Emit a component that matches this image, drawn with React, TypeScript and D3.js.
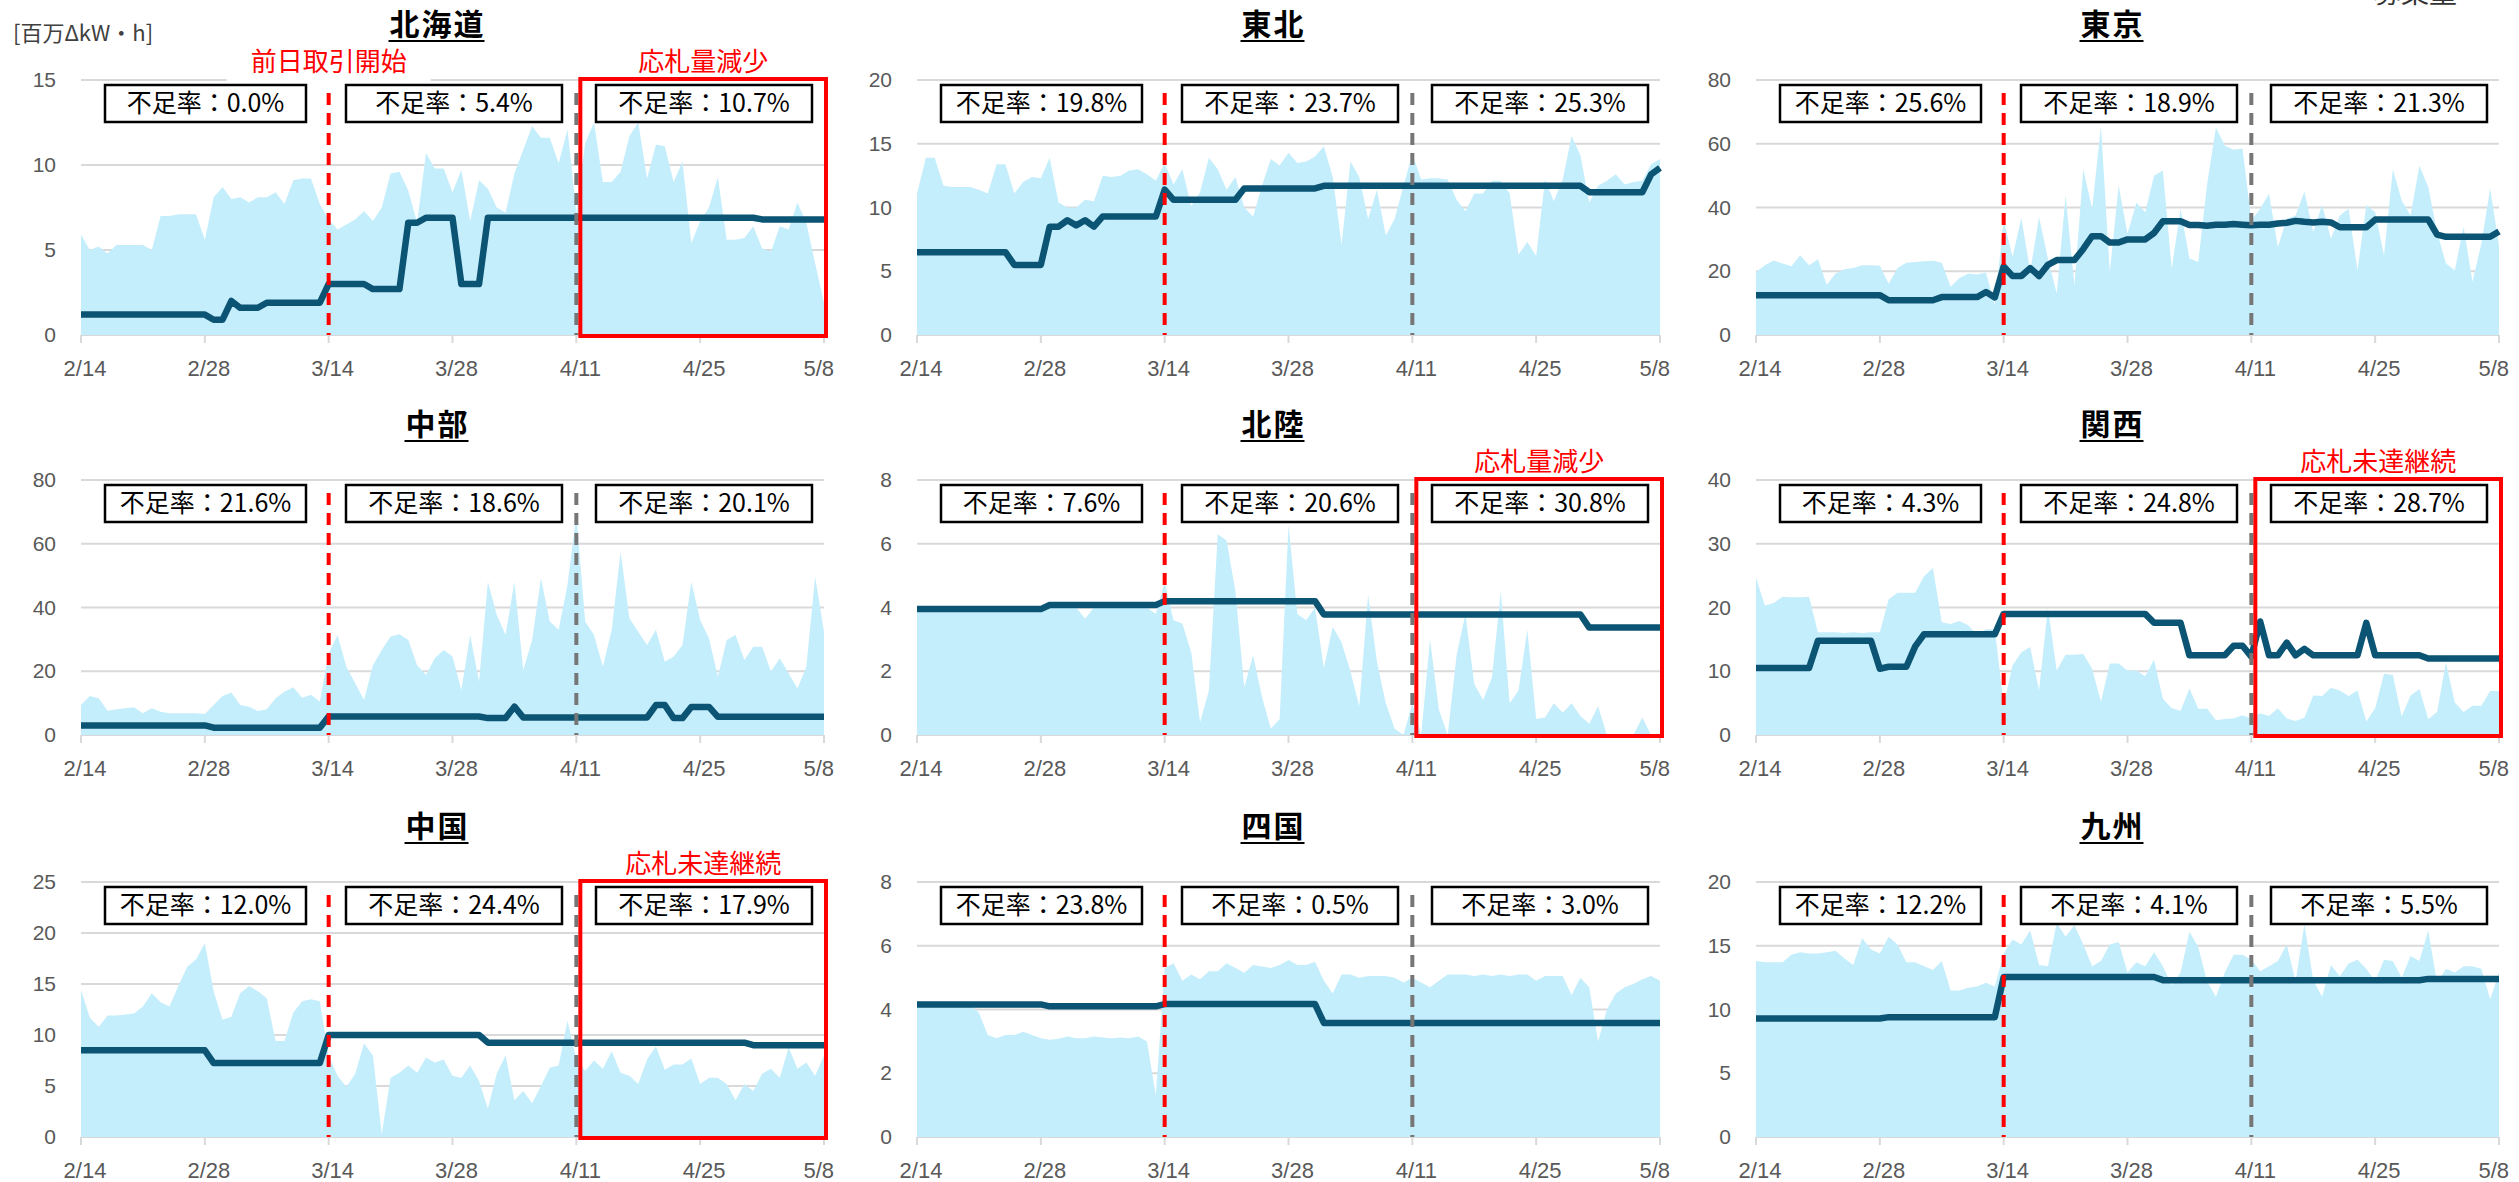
import React from 'react';
import * as d3 from 'd3';

// Daily index 0..84 covers 2/14 to 5/8
const dateTicks = [0, 14, 28, 42, 56, 70, 84];
const dateLabels = ['2/14', '2/28', '3/14', '3/28', '4/11', '4/25', '5/8'];
const dayAheadStart = 28; // 3/14
const periodSplit = 56; // 4/11

const regionNames = ['北海道', '東北', '東京', '中部', '北陸', '関西', '中国', '四国', '九州'];
const yTickValues = [
  [0, 5, 10, 15],
  [0, 5, 10, 15, 20],
  [0, 20, 40, 60, 80],
  [0, 20, 40, 60, 80],
  [0, 2, 4, 6, 8],
  [0, 10, 20, 30, 40],
  [0, 5, 10, 15, 20, 25],
  [0, 2, 4, 6, 8],
  [0, 5, 10, 15, 20],
];
const shortageRates = [
  ['0.0%', '5.4%', '10.7%'],
  ['19.8%', '23.7%', '25.3%'],
  ['25.6%', '18.9%', '21.3%'],
  ['21.6%', '18.6%', '20.1%'],
  ['7.6%', '20.6%', '30.8%'],
  ['4.3%', '24.8%', '28.7%'],
  ['12.0%', '24.4%', '17.9%'],
  ['23.8%', '0.5%', '3.0%'],
  ['12.2%', '4.1%', '5.5%'],
];
const alertNotes = ['応札量減少', '', '', '', '応札量減少', '応札未達継続', '応札未達継続', '', ''];

// Bid volume (area) and procurement volume (line), 百万ΔkW・h
const hokkaidoBid = [5.9, 5.0, 5.2, 4.8, 5.3, 5.3, 5.3, 5.3, 5.0, 7.0, 7.0, 7.1, 7.1, 7.1, 5.6, 8.1, 8.7, 8.0, 8.1, 7.8, 8.1, 8.1, 8.4, 7.7, 9.1, 9.2, 9.2, 7.7, 6.8, 6.2, 6.5, 6.8, 7.3, 6.7, 7.5, 9.5, 9.6, 8.5, 6.6, 10.7, 9.8, 9.8, 8.4, 9.7, 6.7, 9.1, 8.6, 7.5, 7.2, 9.5, 10.9, 12.3, 11.6, 11.6, 10.1, 12.1, 7.2, 11.3, 12.5, 9.0, 9.0, 9.6, 11.7, 12.5, 9.2, 11.2, 11.1, 9.0, 10.2, 5.4, 6.7, 7.5, 9.3, 5.6, 5.6, 5.7, 6.4, 5.1, 4.9, 6.4, 6.2, 7.8, 6.6, 4.2, 1.9];
const hokkaidoReq = [1.2, 1.2, 1.2, 1.2, 1.2, 1.2, 1.2, 1.2, 1.2, 1.2, 1.2, 1.2, 1.2, 1.2, 1.2, 0.9, 0.9, 2.0, 1.6, 1.6, 1.6, 1.9, 1.9, 1.9, 1.9, 1.9, 1.9, 1.9, 3.0, 3.0, 3.0, 3.0, 3.0, 2.7, 2.7, 2.7, 2.7, 6.6, 6.6, 6.9, 6.9, 6.9, 6.9, 3.0, 3.0, 3.0, 6.9, 6.9, 6.9, 6.9, 6.9, 6.9, 6.9, 6.9, 6.9, 6.9, 6.9, 6.9, 6.9, 6.9, 6.9, 6.9, 6.9, 6.9, 6.9, 6.9, 6.9, 6.9, 6.9, 6.9, 6.9, 6.9, 6.9, 6.9, 6.9, 6.9, 6.9, 6.8, 6.8, 6.8, 6.8, 6.8, 6.8, 6.8, 6.8];

const tohokuBid = [11.1, 13.9, 13.9, 11.7, 11.6, 11.6, 11.6, 11.4, 11.1, 13.4, 13.4, 11.1, 12.0, 12.4, 12.3, 13.9, 10.4, 10.0, 10.0, 10.6, 10.5, 12.5, 12.4, 12.5, 12.9, 13.0, 12.6, 12.1, 13.5, 11.8, 13.0, 10.1, 11.2, 13.9, 13.0, 11.4, 12.4, 10.0, 9.3, 11.7, 13.8, 13.3, 14.3, 13.5, 13.6, 14.0, 14.8, 12.4, 7.1, 13.6, 12.4, 9.1, 11.4, 7.8, 9.1, 11.7, 14.2, 12.2, 12.3, 12.3, 12.2, 10.6, 9.7, 11.1, 11.1, 12.1, 12.1, 11.1, 6.3, 7.3, 6.2, 12.2, 10.5, 12.2, 15.6, 14.1, 10.4, 11.7, 12.1, 12.6, 11.8, 12.0, 12.1, 13.4, 13.8];
const tohokuReq = [6.5, 6.5, 6.5, 6.5, 6.5, 6.5, 6.5, 6.5, 6.5, 6.5, 6.5, 5.5, 5.5, 5.5, 5.5, 8.5, 8.5, 9.0, 8.6, 9.0, 8.5, 9.3, 9.3, 9.3, 9.3, 9.3, 9.3, 9.3, 11.4, 10.6, 10.6, 10.6, 10.6, 10.6, 10.6, 10.6, 10.6, 11.5, 11.5, 11.5, 11.5, 11.5, 11.5, 11.5, 11.5, 11.5, 11.7, 11.7, 11.7, 11.7, 11.7, 11.7, 11.7, 11.7, 11.7, 11.7, 11.7, 11.7, 11.7, 11.7, 11.7, 11.7, 11.7, 11.7, 11.7, 11.7, 11.7, 11.7, 11.7, 11.7, 11.7, 11.7, 11.7, 11.7, 11.7, 11.7, 11.2, 11.2, 11.2, 11.2, 11.2, 11.2, 11.2, 12.6, 13.1];

const tokyoBid = [19.8, 21.9, 23.4, 22.4, 21.6, 25.0, 21.9, 23.8, 15.8, 19.3, 20.6, 21.0, 21.9, 21.9, 21.7, 16.1, 21.0, 22.7, 22.9, 23.1, 23.3, 22.7, 15.1, 17.9, 19.3, 19.0, 19.6, 9.5, 36.0, 24.5, 36.7, 20.0, 37.0, 24.0, 13.0, 43.8, 15.6, 52.0, 39.6, 65.6, 19.8, 46.9, 31.8, 41.5, 38.5, 50.0, 51.6, 20.8, 39.6, 24.0, 22.9, 47.4, 65.1, 59.4, 58.1, 58.5, 35.9, 39.6, 44.3, 27.6, 36.5, 37.5, 45.0, 32.3, 40.8, 30.2, 37.5, 39.6, 20.3, 40.8, 38.5, 25.0, 52.0, 42.2, 37.5, 53.1, 46.4, 32.3, 22.4, 20.3, 33.9, 16.7, 28.6, 46.0, 28.0];
const tokyoReq = [12.5, 12.5, 12.5, 12.5, 12.5, 12.5, 12.5, 12.5, 12.5, 12.5, 12.5, 12.5, 12.5, 12.5, 12.5, 10.9, 10.9, 10.9, 10.9, 10.9, 10.9, 11.9, 11.9, 11.9, 11.9, 11.9, 13.5, 11.8, 21.5, 18.5, 18.5, 21.0, 18.5, 22.0, 23.5, 23.5, 23.5, 27.0, 31.0, 31.0, 29.0, 29.0, 30.0, 30.0, 30.0, 32.0, 35.7, 35.7, 35.7, 34.5, 34.5, 34.3, 34.6, 34.6, 34.8, 34.6, 34.4, 34.6, 34.6, 35.0, 35.2, 35.8, 35.5, 35.3, 35.5, 35.3, 33.8, 33.8, 33.8, 33.8, 36.2, 36.2, 36.2, 36.2, 36.2, 36.2, 36.2, 31.5, 30.8, 30.8, 30.8, 30.8, 30.8, 30.8, 32.5];

const chubuBid = [9.4, 12.2, 11.5, 7.6, 8.1, 8.4, 8.7, 6.8, 8.4, 7.3, 6.8, 6.8, 6.8, 6.8, 6.6, 9.4, 12.2, 13.3, 9.4, 8.9, 7.5, 8.1, 11.5, 13.6, 15.0, 11.7, 12.6, 10.5, 25.6, 31.4, 21.4, 16.2, 11.0, 21.9, 26.7, 30.9, 31.6, 29.8, 21.9, 18.8, 24.1, 26.7, 24.6, 14.1, 31.4, 16.7, 48.1, 37.7, 31.4, 48.1, 20.4, 29.8, 49.2, 35.6, 33.0, 47.1, 69.0, 35.6, 31.4, 21.4, 33.0, 57.5, 36.6, 32.4, 28.2, 33.0, 23.0, 24.6, 28.2, 48.1, 36.1, 30.3, 18.3, 29.8, 31.4, 23.5, 27.7, 27.7, 19.9, 24.1, 19.4, 14.6, 21.4, 49.7, 32.4];
const chubuReq = [3.0, 3.0, 3.0, 3.0, 3.0, 3.0, 3.0, 3.0, 3.0, 3.0, 3.0, 3.0, 3.0, 3.0, 3.0, 2.3, 2.3, 2.3, 2.3, 2.3, 2.3, 2.3, 2.3, 2.3, 2.3, 2.3, 2.3, 2.3, 5.8, 5.8, 5.8, 5.8, 5.8, 5.8, 5.8, 5.8, 5.8, 5.8, 5.8, 5.8, 5.8, 5.8, 5.8, 5.8, 5.8, 5.8, 5.3, 5.3, 5.3, 8.9, 5.5, 5.5, 5.5, 5.5, 5.5, 5.5, 5.5, 5.5, 5.5, 5.5, 5.5, 5.5, 5.5, 5.5, 5.5, 9.4, 9.4, 5.3, 5.3, 8.8, 8.8, 8.8, 5.7, 5.7, 5.7, 5.7, 5.7, 5.7, 5.7, 5.7, 5.7, 5.7, 5.7, 5.7, 5.7];

const hokurikuBid = [3.9, 3.9, 3.9, 3.9, 3.9, 3.9, 3.9, 3.9, 3.9, 3.9, 3.9, 3.9, 3.9, 3.9, 3.9, 4.0, 4.0, 4.0, 4.0, 3.65, 4.0, 4.0, 4.0, 4.0, 4.0, 4.0, 4.0, 3.8, 4.8, 3.6, 3.5, 2.6, 0.4, 1.4, 6.3, 6.1, 4.5, 1.5, 2.5, 1.2, 0.2, 0.5, 6.6, 3.8, 3.6, 4.0, 2.1, 3.4, 2.9, 2.0, 0.9, 4.4, 2.3, 1.0, 0.2, 0.0, 1.0, 0.0, 3.0, 0.8, 0.0, 2.5, 3.8, 1.6, 1.1, 1.8, 4.5, 1.0, 1.4, 3.3, 0.5, 0.55, 1.0, 0.7, 1.0, 0.6, 0.35, 0.9, 0.0, 0.0, 0.0, 0.0, 0.55, 0.0, 0.0];
const hokurikuReq = [3.95, 3.95, 3.95, 3.95, 3.95, 3.95, 3.95, 3.95, 3.95, 3.95, 3.95, 3.95, 3.95, 3.95, 3.95, 4.08, 4.08, 4.08, 4.08, 4.08, 4.08, 4.08, 4.08, 4.08, 4.08, 4.08, 4.08, 4.08, 4.2, 4.2, 4.2, 4.2, 4.2, 4.2, 4.2, 4.2, 4.2, 4.2, 4.2, 4.2, 4.2, 4.2, 4.2, 4.2, 4.2, 4.2, 3.78, 3.78, 3.78, 3.78, 3.78, 3.78, 3.78, 3.78, 3.78, 3.78, 3.78, 3.78, 3.78, 3.78, 3.78, 3.78, 3.78, 3.78, 3.78, 3.78, 3.78, 3.78, 3.78, 3.78, 3.78, 3.78, 3.78, 3.78, 3.78, 3.78, 3.37, 3.37, 3.37, 3.37, 3.37, 3.37, 3.37, 3.37, 3.37];

const kansaiBid = [24.7, 20.3, 20.7, 21.7, 21.6, 21.6, 21.7, 16.1, 16.1, 16.1, 16.0, 16.1, 16.0, 16.1, 16.1, 21.3, 22.3, 22.3, 22.3, 24.9, 26.2, 17.7, 17.4, 17.9, 17.2, 15.6, 16.6, 16.6, 4.7, 10.9, 13.0, 13.8, 7.0, 20.0, 10.1, 12.6, 12.6, 12.7, 10.4, 5.2, 11.2, 11.2, 10.1, 10.1, 9.2, 11.8, 5.7, 4.2, 3.8, 7.3, 4.1, 4.1, 2.3, 2.5, 2.6, 3.1, 2.6, 3.4, 3.0, 4.2, 2.6, 2.2, 2.7, 6.2, 6.1, 7.4, 7.0, 6.1, 7.0, 2.1, 4.2, 9.6, 9.4, 2.9, 6.2, 7.2, 2.5, 3.6, 11.4, 5.1, 3.6, 4.6, 4.6, 6.9, 6.9];
const kansaiReq = [10.5, 10.5, 10.5, 10.5, 10.5, 10.5, 10.5, 14.8, 14.8, 14.8, 14.8, 14.8, 14.8, 14.8, 10.4, 10.7, 10.7, 10.7, 13.9, 15.8, 15.8, 15.8, 15.8, 15.8, 15.8, 15.8, 15.8, 15.8, 19.0, 19.0, 19.0, 19.0, 19.0, 19.0, 19.0, 19.0, 19.0, 19.0, 19.0, 19.0, 19.0, 19.0, 19.0, 19.0, 19.0, 17.6, 17.6, 17.6, 17.6, 12.5, 12.5, 12.5, 12.5, 12.5, 14.0, 14.0, 12.3, 17.8, 12.5, 12.5, 14.5, 12.5, 13.5, 12.5, 12.5, 12.5, 12.5, 12.5, 12.5, 17.6, 12.5, 12.5, 12.5, 12.5, 12.5, 12.5, 12.0, 12.0, 12.0, 12.0, 12.0, 12.0, 12.0, 12.0, 12.0];

const chugokuBid = [14.4, 11.7, 10.8, 11.9, 11.9, 12.0, 12.1, 12.8, 14.1, 13.2, 12.8, 14.8, 16.7, 17.4, 19.0, 14.3, 11.5, 11.8, 14.1, 14.8, 14.3, 13.6, 9.4, 9.4, 12.2, 13.3, 13.5, 13.3, 8.0, 6.0, 4.9, 6.2, 9.2, 8.0, 0.3, 5.8, 6.3, 7.0, 6.3, 7.8, 7.3, 7.6, 6.0, 5.8, 7.0, 5.5, 2.8, 6.2, 8.0, 3.6, 4.5, 3.3, 5.0, 6.8, 7.0, 11.4, 7.6, 6.5, 7.5, 6.7, 8.4, 6.3, 6.0, 5.2, 7.6, 8.9, 6.6, 7.1, 7.1, 7.7, 5.2, 5.8, 5.8, 5.2, 3.6, 5.2, 4.5, 6.2, 6.7, 5.8, 8.8, 6.7, 7.3, 6.0, 8.0];
const chugokuReq = [8.5, 8.5, 8.5, 8.5, 8.5, 8.5, 8.5, 8.5, 8.5, 8.5, 8.5, 8.5, 8.5, 8.5, 8.5, 7.25, 7.25, 7.25, 7.25, 7.25, 7.25, 7.25, 7.25, 7.25, 7.25, 7.25, 7.25, 7.25, 10.0, 10.0, 10.0, 10.0, 10.0, 10.0, 10.0, 10.0, 10.0, 10.0, 10.0, 10.0, 10.0, 10.0, 10.0, 10.0, 10.0, 10.0, 9.25, 9.25, 9.25, 9.25, 9.25, 9.25, 9.25, 9.25, 9.25, 9.25, 9.25, 9.25, 9.25, 9.25, 9.25, 9.25, 9.25, 9.25, 9.25, 9.25, 9.25, 9.25, 9.25, 9.25, 9.25, 9.25, 9.25, 9.25, 9.25, 9.25, 9.0, 9.0, 9.0, 9.0, 9.0, 9.0, 9.0, 9.0, 9.0];

const shikokuBid = [4.26, 4.1, 4.15, 4.15, 4.2, 4.2, 4.15, 3.9, 3.2, 3.1, 3.2, 3.2, 3.3, 3.2, 3.1, 3.05, 3.08, 3.15, 3.1, 3.1, 3.15, 3.12, 3.1, 3.12, 3.1, 3.15, 3.0, 1.3, 5.3, 5.45, 4.9, 5.1, 4.95, 5.2, 5.2, 5.45, 5.3, 5.15, 5.4, 5.35, 5.3, 5.4, 5.55, 5.4, 5.4, 5.5, 4.9, 4.5, 5.1, 5.1, 5.0, 5.05, 5.05, 5.05, 5.0, 4.85, 5.0, 4.85, 4.7, 4.9, 5.1, 5.1, 5.1, 5.05, 5.1, 5.05, 5.1, 5.05, 5.1, 5.1, 4.9, 5.05, 5.05, 5.05, 4.45, 5.0, 4.7, 3.0, 4.0, 4.5, 4.7, 4.8, 4.95, 5.05, 4.9];
const shikokuReq = [4.16, 4.16, 4.16, 4.16, 4.16, 4.16, 4.16, 4.16, 4.16, 4.16, 4.16, 4.16, 4.16, 4.16, 4.16, 4.1, 4.1, 4.1, 4.1, 4.1, 4.1, 4.1, 4.1, 4.1, 4.1, 4.1, 4.1, 4.1, 4.17, 4.17, 4.17, 4.17, 4.17, 4.17, 4.17, 4.17, 4.17, 4.17, 4.17, 4.17, 4.17, 4.17, 4.17, 4.17, 4.17, 4.17, 3.58, 3.58, 3.58, 3.58, 3.58, 3.58, 3.58, 3.58, 3.58, 3.58, 3.58, 3.58, 3.58, 3.58, 3.58, 3.58, 3.58, 3.58, 3.58, 3.58, 3.58, 3.58, 3.58, 3.58, 3.58, 3.58, 3.58, 3.58, 3.58, 3.58, 3.58, 3.58, 3.58, 3.58, 3.58, 3.58, 3.58, 3.58, 3.58];

const kyushuBid = [13.8, 13.7, 13.7, 13.7, 14.3, 14.5, 14.4, 14.4, 14.5, 14.6, 14.0, 13.5, 15.6, 14.7, 14.4, 15.7, 15.1, 13.7, 13.7, 13.4, 13.1, 13.8, 11.5, 11.5, 11.7, 11.8, 12.1, 11.8, 14.4, 15.5, 15.1, 16.2, 13.5, 13.4, 16.8, 15.7, 16.6, 15.1, 13.4, 13.8, 15.1, 15.3, 12.9, 13.7, 13.4, 14.5, 13.4, 11.9, 12.9, 16.1, 14.9, 12.2, 11.0, 12.9, 14.3, 14.3, 13.9, 13.0, 13.4, 13.8, 15.1, 12.2, 16.7, 12.3, 11.0, 13.5, 12.6, 13.6, 13.9, 13.2, 12.2, 13.9, 13.8, 12.5, 14.2, 13.8, 16.2, 12.1, 13.2, 12.9, 13.4, 13.4, 13.2, 10.8, 12.9];
const kyushuReq = [9.3, 9.3, 9.3, 9.3, 9.3, 9.3, 9.3, 9.3, 9.3, 9.3, 9.3, 9.3, 9.3, 9.3, 9.3, 9.4, 9.4, 9.4, 9.4, 9.4, 9.4, 9.4, 9.4, 9.4, 9.4, 9.4, 9.4, 9.4, 12.55, 12.55, 12.55, 12.55, 12.55, 12.55, 12.55, 12.55, 12.55, 12.55, 12.55, 12.55, 12.55, 12.55, 12.55, 12.55, 12.55, 12.55, 12.3, 12.3, 12.3, 12.3, 12.3, 12.3, 12.3, 12.3, 12.3, 12.3, 12.3, 12.3, 12.3, 12.3, 12.3, 12.3, 12.3, 12.3, 12.3, 12.3, 12.3, 12.3, 12.3, 12.3, 12.3, 12.3, 12.3, 12.3, 12.3, 12.3, 12.4, 12.4, 12.4, 12.4, 12.4, 12.4, 12.4, 12.4, 12.4];

const bidSeries = [hokkaidoBid, tohokuBid, tokyoBid, chubuBid, hokurikuBid, kansaiBid, chugokuBid, shikokuBid, kyushuBid];
const reqSeries = [hokkaidoReq, tohokuReq, tokyoReq, chubuReq, hokurikuReq, kansaiReq, chugokuReq, shikokuReq, kyushuReq];

const W = 2519;
const H = 1182;
const COL_LEFT = [81, 917, 1756];
const ROW_TOP = [80, 480, 882];
const PLOT_W = 743;
const PLOT_H = 255;

const CJK = '"Noto Sans CJK JP", "Noto Sans", sans-serif';
const NUM = '"Liberation Sans", Arial, sans-serif';
const AREA_FILL = '#c5eefc';
const LINE_COLOR = '#0c5473';
const GRID = '#d9d9d9';
const RED = '#ff0000';

function Panel({ idx }: { idx: number }) {
  const col = idx % 3;
  const row = Math.floor(idx / 3);
  const left = COL_LEFT[col];
  const top = ROW_TOP[row];
  const right = left + PLOT_W;
  const bottom = top + PLOT_H;
  const ticks = yTickValues[idx];
  const yMax = ticks[ticks.length - 1];

  const x = d3.scaleLinear().domain([0, 84]).range([left, right]);
  const y = d3.scaleLinear().domain([0, yMax]).range([bottom, top]);

  const areaGen = d3
    .area<number>()
    .x((_, i) => x(i))
    .y0(y(0))
    .y1((d) => y(d));
  const lineGen = d3
    .line<number>()
    .x((_, i) => x(i))
    .y((d) => y(d));

  const titleX = left + PLOT_W / 2 - 16;
  const titleSize = 30;
  const titleSpacing = 2;
  const titleW = regionNames[idx].length * (titleSize + titleSpacing);

  const boxes = [
    [24, 225],
    [265, 481],
    [515, 731],
  ];
  const note = alertNotes[idx];

  return (
    <g>
      {/* title */}
      <text
        x={titleX + titleSpacing / 2}
        y={top - 45}
        textAnchor="middle"
        fontFamily={CJK}
        fontWeight={700}
        fontSize={titleSize}
        letterSpacing={titleSpacing}
        fill="#000"
      >
        {regionNames[idx]}
      </text>
      <line
        x1={titleX - titleW / 2}
        x2={titleX + titleW / 2}
        y1={top - 39}
        y2={top - 39}
        stroke="#000"
        strokeWidth={2}
      />

      {/* gridlines + y labels */}
      {ticks.map((t) => (
        <g key={t}>
          <line x1={left} x2={right} y1={y(t)} y2={y(t)} stroke={GRID} strokeWidth={2} />
          <text
            x={left - 25}
            y={y(t) + 7}
            textAnchor="end"
            fontFamily={NUM}
            fontSize={21}
            fill="#595959"
          >
            {t}
          </text>
        </g>
      ))}

      {/* x ticks + labels */}
      {dateTicks.map((d, k) => {
        const last = k === dateTicks.length - 1;
        return (
          <g key={d}>
            <line x1={x(d)} x2={x(d)} y1={bottom} y2={bottom + 8} stroke={GRID} strokeWidth={2} />
            <text
              x={last ? x(d) + 10 : x(d) + 4}
              y={bottom + 41}
              textAnchor={last ? 'end' : 'middle'}
              fontFamily={NUM}
              fontSize={22}
              fill="#595959"
            >
              {dateLabels[k]}
            </text>
          </g>
        );
      })}

      {/* series */}
      <path d={areaGen(bidSeries[idx]) || ''} fill={AREA_FILL} />
      <path
        d={lineGen(reqSeries[idx]) || ''}
        fill="none"
        stroke={LINE_COLOR}
        strokeWidth={6.5}
        strokeLinejoin="round"
      />

      {/* period separators */}
      <line
        x1={x(dayAheadStart)}
        x2={x(dayAheadStart)}
        y1={top + 13}
        y2={bottom}
        stroke={RED}
        strokeWidth={4}
        strokeDasharray="12,8"
      />
      <line
        x1={x(periodSplit)}
        x2={x(periodSplit)}
        y1={top + 13}
        y2={bottom}
        stroke="#767676"
        strokeWidth={4}
        strokeDasharray="12,8"
      />

      {/* highlighted period */}
      {note && (
        <g>
          <rect
            x={x(periodSplit) + 4}
            y={top - 1}
            width={right + 2 - (x(periodSplit) + 4)}
            height={bottom + 1 - (top - 1)}
            fill="none"
            stroke={RED}
            strokeWidth={4}
          />
          <text
            x={(x(periodSplit) + 4 + right + 2) / 2}
            y={top - 9}
            textAnchor="middle"
            fontFamily={CJK}
            fontSize={26}
            fill={RED}
          >
            {note}
          </text>
        </g>
      )}

      {/* shortage rate boxes */}
      {boxes.map(([a, b], k) => (
        <g key={k}>
          <rect
            x={left + a}
            y={top + 5}
            width={b - a}
            height={37}
            fill="#fff"
            stroke="#000"
            strokeWidth={2.5}
          />
          <text
            x={left + (a + b) / 2}
            y={top + 32}
            textAnchor="middle"
            fontFamily={CJK}
            fontSize={25}
            fill="#000"
          >
            {'不足率：' + shortageRates[idx][k]}
          </text>
        </g>
      ))}

      {idx === 0 && (
        <g>
          <rect x={x(dayAheadStart) - 102} y={top - 38} width={204} height={41} fill="#fff" />
          <text
            x={x(dayAheadStart)}
            y={top - 9}
            textAnchor="middle"
            fontFamily={CJK}
            fontSize={26}
            fill={RED}
          >
            前日取引開始
          </text>
        </g>
      )}
    </g>
  );
}

export default function App() {
  return (
    <div>
      <style>{'body{margin:0;background:#fff}'}</style>
      <svg width={W} height={H} style={{ display: 'block' }} xmlns="http://www.w3.org/2000/svg">
        <rect width={W} height={H} fill="#fff" />
        <text x={13} y={41} fontFamily={CJK} fontSize={22} fill="#404040">
          [百万ΔkW・h]
        </text>
        <text x={2415} y={3} textAnchor="middle" fontFamily={CJK} fontSize={28} fill="#333">
          募集量
        </text>
        {regionNames.map((_, i) => (
          <Panel key={i} idx={i} />
        ))}
      </svg>
    </div>
  );
}
